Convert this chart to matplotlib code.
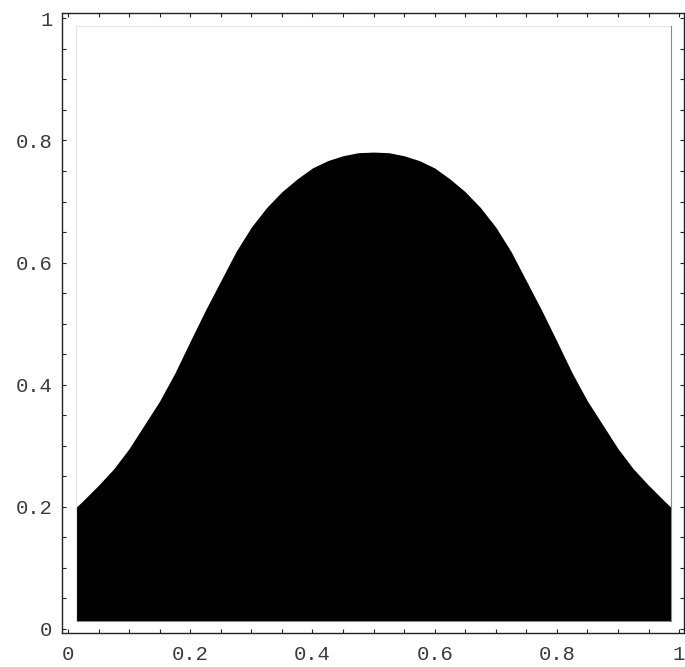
import numpy as np
import matplotlib.pyplot as plt
from matplotlib.ticker import MultipleLocator

# curve (left half), right half mirrors it
x_left = [0.0125, 0.025, 0.05, 0.075, 0.1, 0.125, 0.15, 0.175, 0.2, 0.225, 0.25,
          0.275, 0.3, 0.325, 0.35, 0.375, 0.4, 0.425, 0.45, 0.475, 0.5]
y_left = [0.198, 0.210, 0.235, 0.262, 0.295, 0.334, 0.373, 0.419, 0.471, 0.522, 0.570,
          0.618, 0.658, 0.690, 0.716, 0.737, 0.755, 0.767, 0.775, 0.780, 0.781]
x_right = [0.525, 0.55, 0.575, 0.6, 0.625, 0.65, 0.675, 0.7, 0.725, 0.75, 0.775,
           0.8, 0.825, 0.85, 0.875, 0.9, 0.925, 0.95, 0.975, 0.9875]
y_right = [0.780, 0.775, 0.767, 0.755, 0.737, 0.716, 0.690, 0.658, 0.618, 0.570, 0.522,
           0.471, 0.419, 0.373, 0.334, 0.295, 0.262, 0.235, 0.210, 0.198]

region_lo = 0.0125
region_hi = 0.9875
tick_vals = [0, 0.2, 0.4, 0.6, 0.8, 1]
tick_labels = ["0", "0.2", "0.4", "0.6", "0.8", "1"]

xs = np.array(x_left + x_right)
ys = np.array(y_left + y_right)

plt.rcParams['font.family'] = ['Liberation Mono', 'DejaVu Sans']

fig = plt.figure(figsize=(6.85, 6.67), dpi=100)
ax = fig.add_axes([0.0905, 0.051, 0.908, 0.930])

ax.fill_between(xs, region_lo, ys, color='black', linewidth=0)

# thin grey frame of the plotted region
ax.plot([region_lo, region_lo], [region_lo, region_hi], color='#e4e4e4', lw=0.8)
ax.plot([region_lo, region_hi], [region_hi, region_hi], color='#e4e4e4', lw=0.8)
ax.plot([region_hi, region_hi], [region_lo, region_hi], color='#888888', lw=0.8)

ax.set_xlim(-0.0098, 1.008)
ax.set_ylim(-0.0072, 1.0095)

ax.set_xticks(tick_vals)
ax.set_xticklabels(tick_labels)
ax.set_yticks(tick_vals)
ax.set_yticklabels(tick_labels)
ax.xaxis.set_minor_locator(MultipleLocator(0.05))
ax.yaxis.set_minor_locator(MultipleLocator(0.05))

ax.tick_params(which='both', direction='in', top=True, right=True,
               length=3.2, width=0.8, color='#222222')
ax.tick_params(axis='both', which='major', labelsize=14.8, labelcolor='#3a3a3a')
ax.tick_params(axis='x', which='major', pad=9)
ax.tick_params(axis='y', which='major', pad=7)

for s in ax.spines.values():
    s.set_linewidth(1.0)
    s.set_color('#222222')

fig.savefig('out.png', dpi=100)
